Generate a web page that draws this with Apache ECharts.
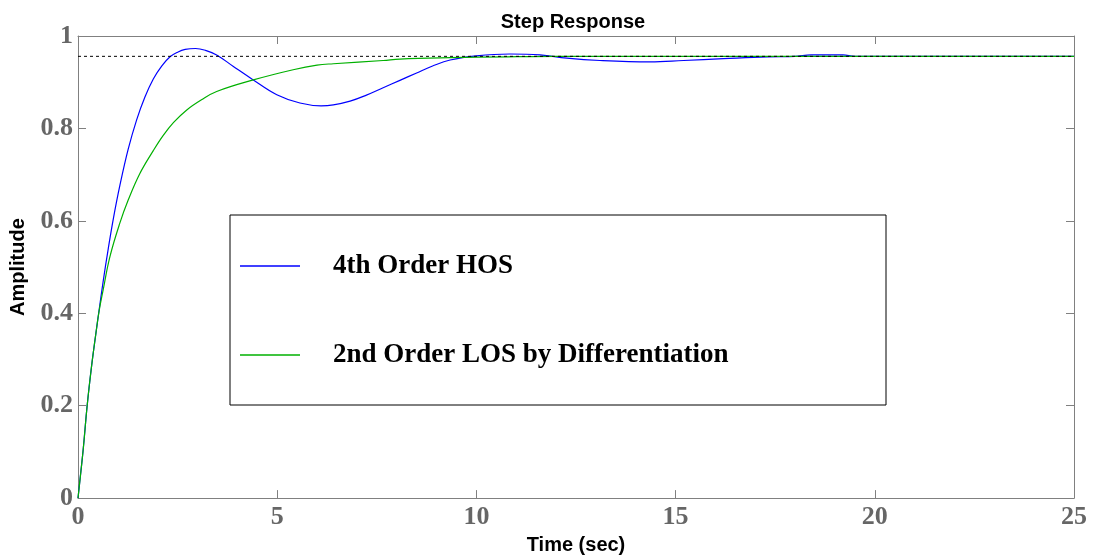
<!DOCTYPE html>
<html>
<head>
<meta charset="utf-8">
<script src="https://cdn.jsdelivr.net/npm/echarts@6/dist/echarts.min.js"></script>
<style>
  html, body { margin: 0; padding: 0; background: #fff; }
  #chart { width: 1093px; height: 560px; }
</style>
</head>
<body>
<div id="chart"></div>
<script>
// values
const hosTime = [0, 0.04, 0.13, 0.23, 0.34, 0.45, 0.53, 0.63, 0.76, 0.89, 1.05, 1.26, 1.47, 1.68, 1.89, 2.1, 2.31, 2.5, 2.69, 2.95, 3.2, 3.48, 3.9, 4.4, 4.99, 5.57, 6.1, 6.41, 6.83, 7.24, 7.66, 8.08, 8.5, 8.9, 9.34, 10.0, 10.84, 11.6, 12.27, 13.1, 14.36, 15.2, 16.2, 17.3, 18.0, 18.4, 19.2, 19.5, 22, 25];
const hosAmp  = [0, 0.032, 0.105, 0.2, 0.285, 0.357, 0.407, 0.468, 0.54, 0.606, 0.676, 0.755, 0.818, 0.868, 0.907, 0.935, 0.955, 0.965, 0.971, 0.973, 0.969, 0.959, 0.934, 0.905, 0.873, 0.855, 0.849, 0.851, 0.859, 0.872, 0.888, 0.904, 0.92, 0.935, 0.948, 0.957, 0.961, 0.959, 0.952, 0.947, 0.944, 0.947, 0.951, 0.955, 0.956, 0.959, 0.959, 0.956, 0.956, 0.956];

const losTime = [0, 0.13, 0.23, 0.34, 0.45, 0.53, 0.63, 0.8, 1.05, 1.26, 1.55, 1.89, 2.14, 2.4, 2.73, 3.1, 3.48, 4.4, 5.4, 6.0, 6.41, 7.66, 8.08, 9.34, 10.76, 12, 25];
const losAmp  = [0, 0.105, 0.2, 0.285, 0.357, 0.405, 0.45, 0.522, 0.595, 0.645, 0.702, 0.752, 0.785, 0.813, 0.84, 0.862, 0.88, 0.905, 0.927, 0.937, 0.94, 0.947, 0.95, 0.953, 0.955, 0.956, 0.956];

const steadyTime = [0, 25];
const steadyAmp  = [0.956, 0.956];

const xTicks = { min: 0, max: 25, interval: 5 };
const yTicks = { min: 0, max: 1, interval: 0.2 };

const zip = (xs, ys) => xs.map((x, i) => [x, ys[i]]);

const chart = echarts.init(document.getElementById('chart'));

const tickLabel = {
    fontFamily: 'Liberation Serif',
    fontWeight: 'bold',
    fontSize: 26,
    color: '#666666'
};
const frameLine = { show: true, onZero: false, lineStyle: { color: '#808080', width: 1 } };
const frameTick = { show: true, inside: true, length: 8, lineStyle: { color: '#808080' } };

chart.setOption({
    animation: false,
    backgroundColor: '#ffffff',
    title: {
        text: 'Step Response',
        left: 568,
        textAlign: 'center',
        top: 7,
        textStyle: {
            fontFamily: 'Liberation Sans',
            fontWeight: 'bold',
            fontSize: 20,
            color: '#000'
        }
    },
    grid: { left: 78, right: 19, top: 36, bottom: 61, containLabel: false },
    legend: {
        orient: 'vertical',
        left: 230,
        top: 215,
        data: [
            { name: '4th Order HOS', icon: 'rect' },
            { name: '2nd Order LOS by Differentiation', icon: 'rect' }
        ],
        itemWidth: 60,
        itemHeight: 1.5,
        itemGap: 59,
        padding: [36, 10, 35, 10],
        borderColor: '#000',
        borderWidth: 1,
        backgroundColor: '#fff',
        selectedMode: false,
        textStyle: {
            fontFamily: 'Liberation Serif',
            fontWeight: 'bold',
            fontSize: 27,
            lineHeight: 30,
            color: '#000',
            width: 543,
            padding: [0, 0, 0, 28]
        }
    },
    xAxis: [
        {
            type: 'value',
            position: 'bottom',
            min: xTicks.min, max: xTicks.max, interval: xTicks.interval,
            name: 'Time (sec)',
            nameLocation: 'middle',
            nameGap: 36,
            nameTextStyle: { fontFamily: 'Liberation Sans', fontWeight: 'bold', fontSize: 20, color: '#000' },
            axisLine: frameLine,
            axisTick: frameTick,
            axisLabel: Object.assign({ margin: 6 }, tickLabel),
            splitLine: { show: false }
        },
        {
            type: 'value',
            position: 'top',
            min: xTicks.min, max: xTicks.max, interval: xTicks.interval,
            axisLine: frameLine,
            axisTick: frameTick,
            axisLabel: { show: false },
            splitLine: { show: false }
        }
    ],
    yAxis: [
        {
            type: 'value',
            position: 'left',
            min: yTicks.min, max: yTicks.max, interval: yTicks.interval,
            name: 'Amplitude',
            nameLocation: 'middle',
            nameGap: 50,
            nameRotate: 90,
            nameTextStyle: { fontFamily: 'Liberation Sans', fontWeight: 'bold', fontSize: 20, color: '#000' },
            axisLine: frameLine,
            axisTick: frameTick,
            axisLabel: Object.assign({ margin: 5 }, tickLabel),
            splitLine: { show: false }
        },
        {
            type: 'value',
            position: 'right',
            min: yTicks.min, max: yTicks.max, interval: yTicks.interval,
            axisLine: frameLine,
            axisTick: frameTick,
            axisLabel: { show: false },
            splitLine: { show: false }
        }
    ],
    series: [
        {
            name: '4th Order HOS',
            type: 'line',
            data: zip(hosTime, hosAmp),
            symbol: 'none',
            smooth: 0.4,
            lineStyle: { color: '#0000ff', width: 1.2 },
            itemStyle: { color: '#0000ff' },
            z: 2
        },
        {
            name: '2nd Order LOS by Differentiation',
            type: 'line',
            data: zip(losTime, losAmp),
            symbol: 'none',
            smooth: 0.4,
            lineStyle: { color: '#00b000', width: 1.2 },
            itemStyle: { color: '#00b000' },
            z: 3
        },
        {
            name: 'steady state',
            type: 'line',
            data: zip(steadyTime, steadyAmp),
            symbol: 'none',
            lineStyle: { color: '#000', width: 1, type: [3, 3] },
            z: 4
        }
    ]
});
</script>
</body>
</html>
